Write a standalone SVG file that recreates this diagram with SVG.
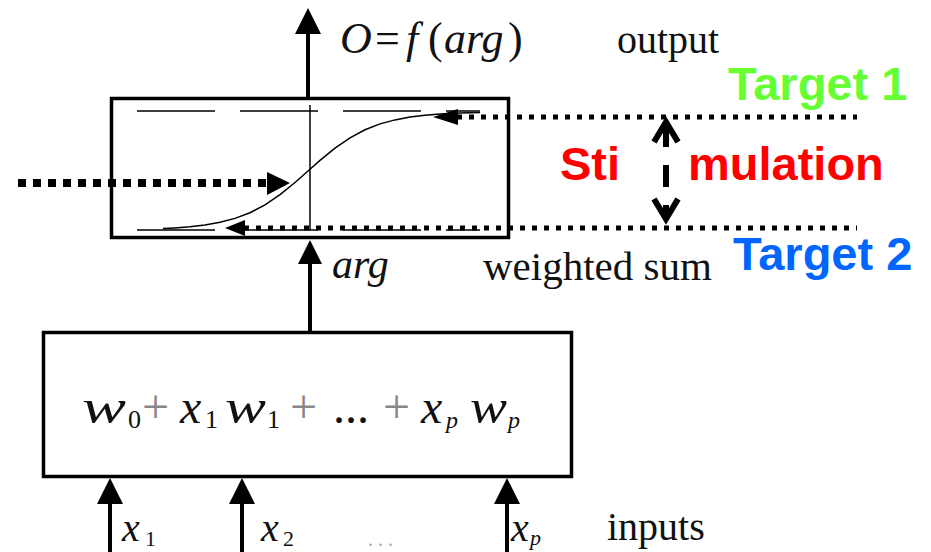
<svg xmlns="http://www.w3.org/2000/svg" width="931" height="552" viewBox="0 0 931 552">
<style>
.serif{font-family:"Liberation Serif","Times New Roman",serif;fill:#111;}
.it{font-style:italic;}
.lbl{font-family:"Liberation Sans",Arial,sans-serif;font-weight:bold;font-size:47px;}
.box{fill:none;stroke:#000;stroke-width:3.5;}
.thin{fill:none;stroke:#000;stroke-width:1.5;}
.shaft{stroke:#000;stroke-width:4;fill:none;}
.dotL{stroke:#000;stroke-width:8;stroke-dasharray:8 7;fill:none;}
.dotT{stroke:#000;stroke-width:5;stroke-dasharray:5 7;fill:none;}
.head{fill:#000;}
.plus{fill:#888;}
</style>
<rect width="931" height="552" fill="#fff"/>

<g id="activation-node">
  <rect class="box" x="111.5" y="98.5" width="397" height="139"/>
  <line class="thin" x1="137" y1="111" x2="480" y2="111" stroke-dasharray="78 25"/>
  <line class="thin" x1="137" y1="230" x2="480" y2="230" stroke-dasharray="78 25"/>
  <line class="thin" x1="310" y1="105" x2="310" y2="230"/>
  <polyline class="thin" points="163,228.6 175,227.9 190,226.8 205,225 220,222.3 235,218.4 250,212.7 265,204.8 280,194.6 295,182.5 308,171 320,160.4 335,148.1 350,137.8 365,129.8 380,123.9 395,119.9 410,117.1 425,115.3 440,114.1 460,113 480,112.5"/>
</g>

<g id="sum-node">
  <rect class="box" x="43.5" y="332.5" width="528" height="144"/>
  <g class="serif" font-size="48">
    <text class="it" x="82" y="423" textLength="44" lengthAdjust="spacingAndGlyphs">w</text>
    <text x="128" y="428" font-size="26">0</text>
    <text class="plus" x="142" y="423">+</text>
    <text class="it" x="180" y="423">x</text>
    <text x="205" y="428" font-size="26">1</text>
    <text class="it" x="225" y="423" textLength="41" lengthAdjust="spacingAndGlyphs">w</text>
    <text x="267" y="428" font-size="26">1</text>
    <text class="plus" x="290" y="423">+</text>
    <text x="333" y="423">...</text>
    <text class="plus" x="383" y="423">+</text>
    <text class="it" x="421" y="423">x</text>
    <text class="it" x="446" y="428" font-size="24">p</text>
    <text class="it" x="470" y="423" textLength="37" lengthAdjust="spacingAndGlyphs">w</text>
    <text class="it" x="508" y="428" font-size="24">p</text>
  </g>
</g>

<g id="connectors">
  <line class="shaft" x1="308" y1="98" x2="308" y2="30"/>
  <polygon class="head" points="308,8 295,34 321,34"/>
  <line class="shaft" x1="310" y1="332" x2="310" y2="260"/>
  <polygon class="head" points="310,240 298,264 322,264"/>
  <line class="shaft" x1="110" y1="552" x2="110" y2="500"/>
  <polygon class="head" points="110,478 97,504 123,504"/>
  <line class="shaft" x1="242" y1="552" x2="242" y2="500"/>
  <polygon class="head" points="242,478 229,504 255,504"/>
  <line class="shaft" x1="507" y1="552" x2="507" y2="500"/>
  <polygon class="head" points="507,478 494,504 520,504"/>

  <line class="dotL" x1="18" y1="183" x2="268" y2="183"/>
  <polygon class="head" points="290,183 267,172 267,195"/>
  <line class="dotT" x1="457" y1="117" x2="857" y2="117"/>
  <polygon class="head" points="433,117 458,109 458,125"/>
  <line class="dotT" x1="244" y1="228" x2="857" y2="228"/>
  <polygon class="head" points="225,228 245,220 245,236"/>

  <line x1="666" y1="125" x2="666" y2="215" stroke="#000" stroke-width="6" stroke-dasharray="22 18"/>
  <polyline points="654,142 666,122 678,142" fill="none" stroke="#000" stroke-width="6" stroke-linejoin="miter"/>
  <polyline points="654,199 666,219 678,199" fill="none" stroke="#000" stroke-width="6" stroke-linejoin="miter"/>
</g>

<g id="labels">
  <g class="serif" font-size="44">
    <text class="it" x="340" y="53">O</text>
    <text x="375" y="53">=</text>
    <text class="it" x="406" y="53">f</text>
    <text x="428" y="53">(</text>
    <text class="it" x="444" y="53">arg</text>
    <text x="508" y="53">)</text>
  </g>
  <text class="serif" font-size="40" x="617" y="53">output</text>
  <text class="serif it" font-size="42" x="332" y="278">arg</text>
  <text class="serif" font-size="41" x="483" y="280">weighted sum</text>
  <g class="serif" font-size="40">
    <text class="it" x="122" y="541">x</text>
    <text x="145" y="546" font-size="22">1</text>
    <text class="it" x="261" y="541">x</text>
    <text x="283" y="546" font-size="22">2</text>
    <text x="368" y="546" font-size="20" fill="#aaa">. . .</text>
    <text class="it" x="511" y="541">x</text>
    <text class="it" x="530" y="545" font-size="22">p</text>
    <text x="607" y="540">inputs</text>
  </g>
  <text class="lbl" x="728" y="100" fill="#66FF33">Target 1</text>
  <text class="lbl" x="733" y="270" fill="#0066FF">Target 2</text>
  <text class="lbl" x="560" y="180" fill="#FF0000">Sti</text>
  <text class="lbl" x="688" y="180" fill="#FF0000">mulation</text>
</g>
</svg>
